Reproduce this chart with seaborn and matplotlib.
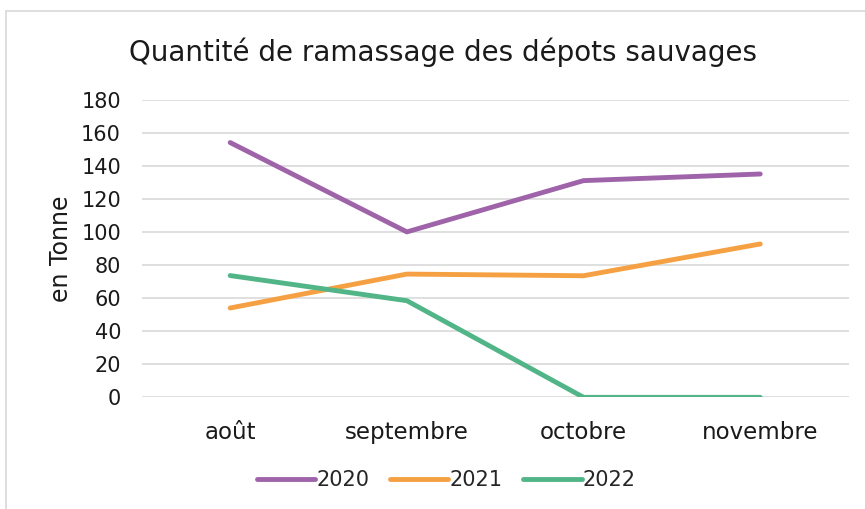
import pandas as pd
import numpy as np
import seaborn as sns
import matplotlib.pyplot as plt
from matplotlib.lines import Line2D

# --- data ---
months = ['août', 'septembre', 'octobre', 'novembre']
years = ['2020', '2021', '2022']
tonnes_2020 = [154, 100, 131, 135]
tonnes_2021 = [54, 74.5, 73.5, 92.7]
tonnes_2022 = [73.6, 58.4, 0, 0]
y_ticks = [0, 20, 40, 60, 80, 100, 120, 140, 160, 180]

colors = {'2020': '#9E63A8', '2021': '#F5A143', '2022': '#52B587'}

df = pd.DataFrame({
    'mois': months * 3,
    'annee': ['2020'] * 4 + ['2021'] * 4 + ['2022'] * 4,
    'tonnes': tonnes_2020 + tonnes_2021 + tonnes_2022,
})
df['pos'] = df['mois'].map({m: i for i, m in enumerate(months)})

sns.set_theme(style='white')
plt.rcParams['font.family'] = ['DejaVu Sans']

fig = plt.figure(figsize=(8.65, 5.09), dpi=100)
ax = fig.add_axes([0.164, 0.2194, 0.817, 0.585])

sns.lineplot(data=df, x='pos', y='tonnes', hue='annee', palette=colors,
             linewidth=3.5, solid_capstyle='round', legend=False, ax=ax)

txt = '#1a1a1a'
ax.set_ylim(0, 180)
ax.set_xlim(-0.5, 3.5)
ax.set_yticks(y_ticks)
ax.set_yticklabels([str(t) for t in y_ticks], fontsize=15, color=txt)
ax.set_xticks(range(len(months)))
ax.set_xticklabels(months, fontsize=16.5, color=txt)
ax.tick_params(axis='y', length=0, pad=15)
ax.tick_params(axis='x', length=0, pad=17)
ax.yaxis.grid(True, color='#d9d9d9', linewidth=1.2)
ax.set_axisbelow(True)
for s in ax.spines.values():
    s.set_visible(False)
ax.set_xlabel('')
ax.set_ylabel('en Tonne', fontsize=17, color=txt, labelpad=6)

fig.text(0.512, 0.898, 'Quantité de ramassage des dépots sauvages',
         ha='center', va='center', fontsize=20, color=txt)

# legend at the bottom
handles = [Line2D([0], [0], color=colors[y], linewidth=3.5, solid_capstyle='round') for y in years]
fig.legend(handles, years, loc='center', bbox_to_anchor=(0.516, 0.056), ncol=3,
           frameon=False, fontsize=15, handlelength=2.8, handletextpad=0.05,
           columnspacing=1.0)

# chart frame (left and top edges visible)
fig.add_artist(Line2D([6 / 865, 6 / 865], [0, 1 - 11 / 509], transform=fig.transFigure,
                      color='#d9d9d9', linewidth=1.2))
fig.add_artist(Line2D([6 / 865, 1], [1 - 11 / 509, 1 - 11 / 509], transform=fig.transFigure,
                      color='#d9d9d9', linewidth=1.2))

fig.savefig('out.png', dpi=100, facecolor='white')
